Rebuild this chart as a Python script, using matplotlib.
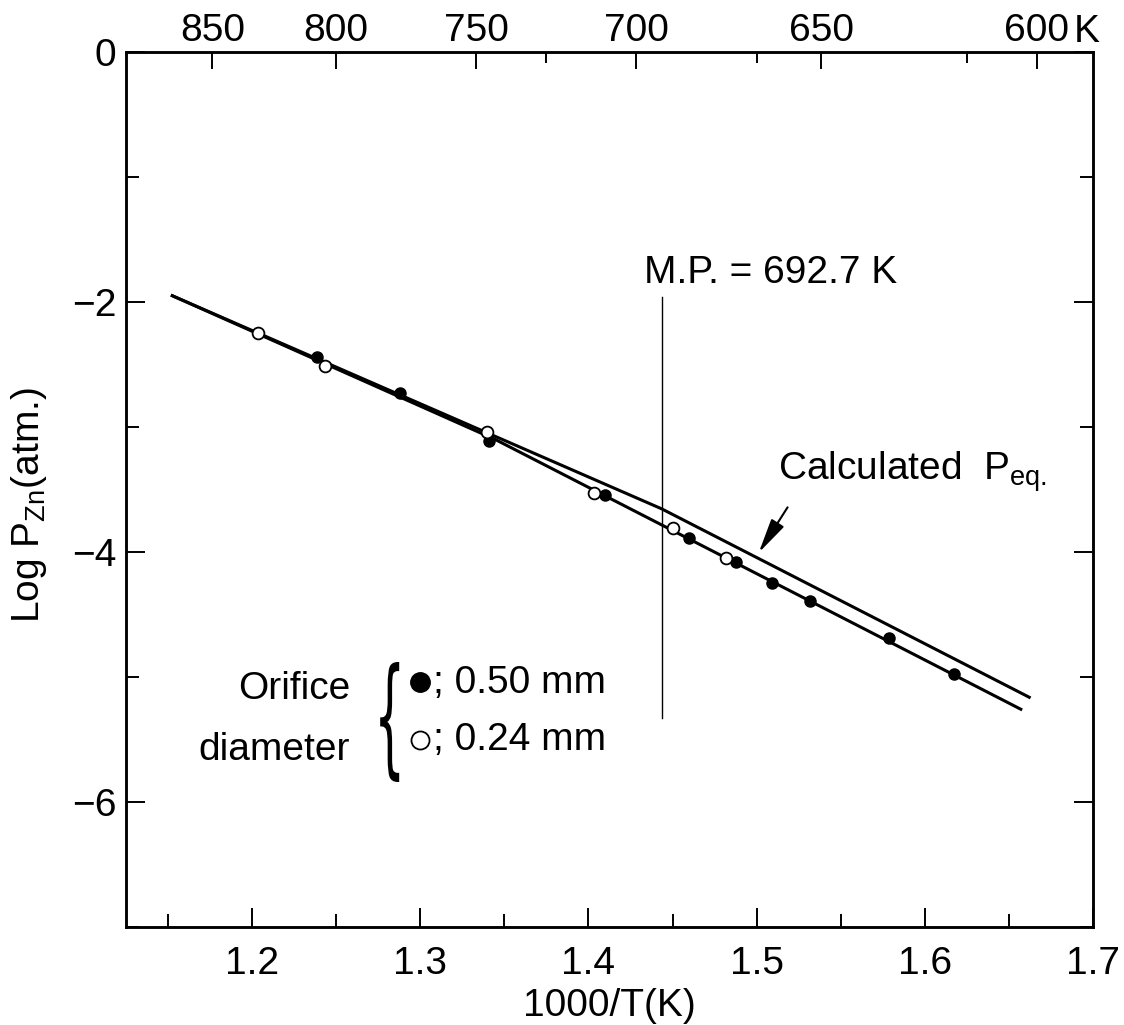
import numpy as np
import matplotlib
matplotlib.use("Agg")
import matplotlib.pyplot as plt
from matplotlib.textpath import TextPath
from matplotlib.patches import PathPatch
from matplotlib.font_manager import FontProperties
from matplotlib.transforms import Affine2D, blended_transform_factory

plt.rcParams['font.family'] = ['Liberation Sans', 'DejaVu Sans']
plt.rcParams['font.size'] = 28
plt.rcParams['mathtext.fontset'] = 'custom'
plt.rcParams['mathtext.rm'] = 'Liberation Sans'
plt.rcParams['mathtext.it'] = 'Liberation Sans'

# measured points, d = 0.50 mm orifice (filled) and 0.24 mm (open)
filled_x = [1.2385, 1.2877, 1.3411, 1.4097, 1.4597, 1.4875, 1.5093, 1.5317, 1.5788, 1.6171]
filled_y = [-2.443, -2.731, -3.112, -3.544, -3.890, -4.080, -4.250, -4.390, -4.690, -4.976]
open_x = [1.2038, 1.2435, 1.3397, 1.4032, 1.4502, 1.4820]
open_y = [-2.245, -2.509, -3.042, -3.525, -3.810, -4.050]

# fitted line through the data and calculated equilibrium line
fit_x = [1.1526, 1.3446, 1.6571]
fit_y = [-1.95, -3.10, -5.258]
calc_x = [1.1526, 1.4436, 1.6621]
calc_y = [-1.95, -3.655, -5.162]

mp_T = 692.7
top_temps = [850, 800, 750, 700, 650, 600]
top_minor = [1.375, 1.5, 1.625]

fig = plt.figure(figsize=(11.24, 10.25), dpi=100)
ax = fig.add_axes([0.112, 0.0956, 0.8604, 0.8537])

ax.plot(calc_x, calc_y, color='k', lw=2.2, zorder=2)
ax.plot(fit_x, fit_y, color='k', lw=2.2, zorder=2)
ax.plot(filled_x, filled_y, 'o', color='k', ms=8, zorder=3)
ax.plot(open_x, open_y, 'o', mfc='white', mec='k', mew=1.3, ms=8.5, zorder=3)

# melting point
xmp = 1000.0 / mp_T
ax.plot([xmp, xmp], [-1.96, -5.33], color='k', lw=1.0, zorder=1)
ax.text(1.433, -1.85, 'M.P. = 692.7 K', ha='left', va='baseline')

ax.text(1.5125, -3.424, r'Calculated  P$_{\rm eq.}$', ha='left', va='baseline')
ax.annotate('', xy=(1.5004, -4.024), xytext=(1.5193, -3.624),
            arrowprops=dict(arrowstyle='-|>,head_length=0.85,head_width=0.18',
                            color='k', lw=1.5, mutation_scale=25))

# legend block
ax.text(1.2583, -5.18, 'Orifice', ha='right', va='baseline')
ax.text(1.2583, -5.66, 'diameter', ha='right', va='baseline')
ax.plot([1.3], [-5.04], 'o', color='k', ms=14)
ax.plot([1.3], [-5.50], 'o', mfc='white', mec='k', mew=1.3, ms=13)
ax.text(1.3077, -5.13, '; 0.50 mm', ha='left', va='baseline')
ax.text(1.3077, -5.585, '; 0.24 mm', ha='left', va='baseline')

tp = TextPath((0, 0), '{', size=1, prop=FontProperties(family='DejaVu Sans'))
bb = tp.get_extents()
x0, x1, y0, y1 = 1.2762, 1.2875, -5.84, -4.88
tr = (Affine2D().translate(-bb.x0, -bb.y0)
      .scale((x1 - x0) / bb.width, (y1 - y0) / bb.height)
      .translate(x0, y0) + ax.transData)
ax.add_patch(PathPatch(tp, transform=tr, color='k', lw=0))

ax.set_xlim(1.125, 1.70)
ax.set_ylim(-7, 0)
ax.set_xticks([1.2, 1.3, 1.4, 1.5, 1.6, 1.7])
ax.set_xticklabels(['1.2', '1.3', '1.4', '1.5', '1.6', '1.7'])
ax.set_xticks([1.15, 1.25, 1.35, 1.45, 1.55, 1.65], minor=True)
ax.set_yticks([0, -2, -4, -6])
ax.set_yticks([-1, -3, -5, -7], minor=True)
ax.tick_params(which='both', direction='in', width=1.4, right=True, top=False)
ax.tick_params(which='major', length=14)
ax.tick_params(which='minor', length=9.5)
ax.tick_params(axis='y', which='major', pad=7)
ax.tick_params(axis='x', which='major', pad=14)
for s in ax.spines.values():
    s.set_linewidth(1.8)

ax.set_xlabel('1000/T(K)', labelpad=4)
ax.set_ylabel(r'Log P$_{\rm Zn}$(atm.)')
ax.yaxis.set_label_coords(-0.079, 0.482)

top = ax.twiny()
top.set_xlim(ax.get_xlim())
top.set_xticks([1000.0 / t for t in top_temps])
top.set_xticklabels([str(t) for t in top_temps])
top.set_xticks(top_minor, minor=True)
top.tick_params(which='both', direction='in', width=1.4, pad=2,
                top=True, bottom=False, labelbottom=False)
top.tick_params(which='major', length=12)
top.tick_params(which='minor', length=8)
for s in top.spines.values():
    s.set_linewidth(1.8)
tr_k = blended_transform_factory(ax.transData, ax.transAxes)
ax.text(1.6887, 1.0023, 'K', transform=tr_k, ha='left', va='bottom')

fig.savefig('out.png', dpi=100)
